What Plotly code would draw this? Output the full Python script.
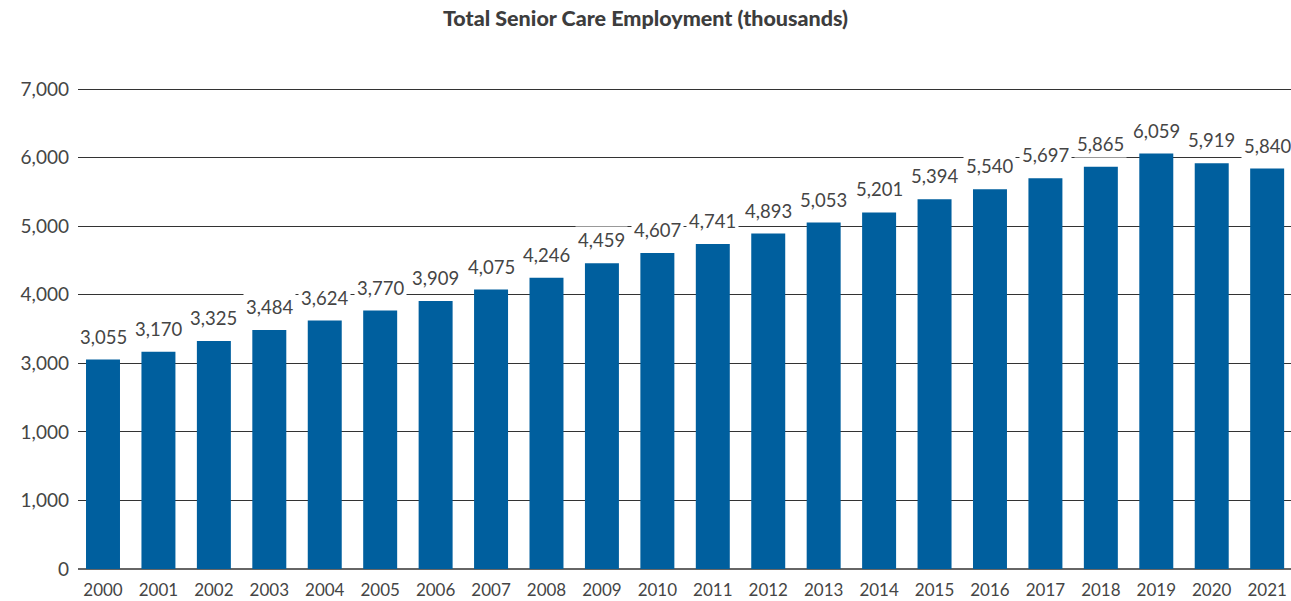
import plotly.graph_objects as go

years = [str(y) for y in range(2000, 2022)]
employment = [3055, 3170, 3325, 3484, 3624, 3770, 3909, 4075, 4246, 4459, 4607,
              4741, 4893, 5053, 5201, 5394, 5540, 5697, 5865, 6059, 5919, 5840]
value_labels = [f"{v:,}" for v in employment]
ytick_vals = [0, 1000, 2000, 3000, 4000, 5000, 6000, 7000]
ytick_text = ["0", "1,000", "1,000", "3,000", "4,000", "5,000", "6,000", "7,000"]

BAR = "#005f9e"
TXT = "#454545"
FONT = "Lato, 'Open Sans', sans-serif"

fig = go.Figure()
fig.add_trace(go.Bar(x=years, y=employment, marker_color=BAR, marker_line_width=0,
                     hoverinfo="skip"))

# category axis: annotations positioned by category index
for i, (v, lab) in enumerate(zip(employment, value_labels)):
    fig.add_annotation(x=i, y=v, text=lab, showarrow=False, yanchor="bottom",
                       yshift=9, bgcolor="white", borderpad=2,
                       font=dict(size=18.5, color=TXT, family=FONT))

fig.update_layout(
    width=1291, height=601,
    margin=dict(l=78, r=0, t=88, b=32, autoexpand=False),
    paper_bgcolor="white", plot_bgcolor="white",
    bargap=0.387, showlegend=False,
    title=dict(text="Total Senior Care Employment (thousands)",
               x=0.5, xanchor="center", y=0.969, yanchor="middle",
               font=dict(size=21.5, color="#3d3d3d", family=FONT, weight=900)),
    font=dict(family=FONT, color=TXT),
)
fig.update_xaxes(type="category", range=[-0.451, len(years) - 0.57],
                 showgrid=False, showline=False, ticks="",
                 tickfont=dict(size=17, color=TXT), ticklabelstandoff=9,
                 automargin=False)
fig.update_yaxes(range=[0, 7015], tickvals=ytick_vals, ticktext=ytick_text,
                 showgrid=True, gridcolor="#333333", gridwidth=1,
                 zeroline=True, zerolinecolor="#666666", zerolinewidth=1.5,
                 ticks="", tickfont=dict(size=19, color=TXT), ticklabelstandoff=8,
                 automargin=False)

fig.write_html(
    "out.html",
    config={"displayModeBar": False},
    post_script="document.body.style.margin='0';document.body.style.overflow='hidden';",
)
